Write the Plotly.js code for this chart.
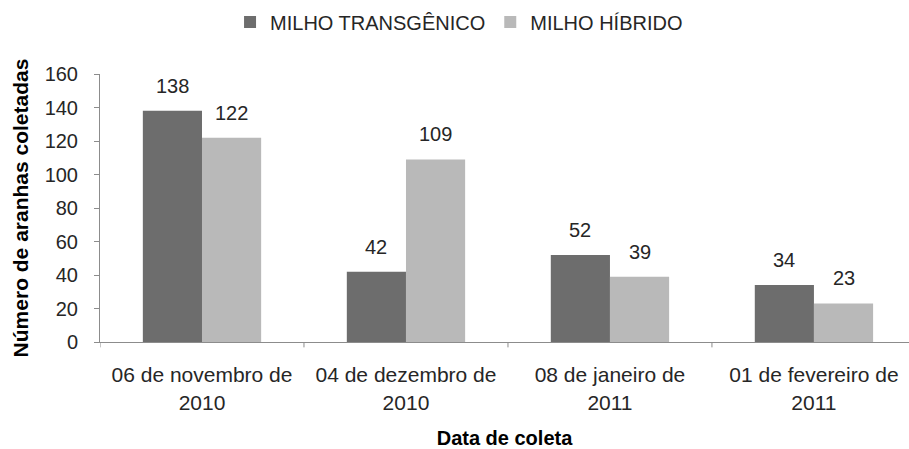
<!DOCTYPE html>
<html>
<head>
<meta charset="utf-8">
<script src="https://cdn.plot.ly/plotly-3.0.1.min.js"></script>
<style>html,body{margin:0;padding:0;background:#fff;}#chart{width:909px;height:449px;}</style>
</head>
<body>
<div id="chart"></div>
<script>
const categories = ["06 de novembro de<br>2010", "04 de dezembro de<br>2010", "08 de janeiro de<br>2011", "01 de fevereiro de<br>2011"];
const transgenico = [138, 42, 52, 34];
const hibrido = [122, 109, 39, 23];
const seriesNames = ["MILHO TRANSGÊNICO", "MILHO HÍBRIDO"];
const yTicks = [0, 20, 40, 60, 80, 100, 120, 140, 160];

const FONT = '"Liberation Sans", Arial, sans-serif';
const bargap = 0.42;
const half = (1 - bargap) / 4;

const traces = [
  {type: 'bar', name: seriesNames[0], x: categories.map((c, i) => i), y: transgenico,
   marker: {color: '#6d6d6d'}, hoverinfo: 'none'},
  {type: 'bar', name: seriesNames[1], x: categories.map((c, i) => i), y: hibrido,
   marker: {color: '#b9b9b9'}, hoverinfo: 'none'}
];

const annotations = [];
transgenico.forEach((v, i) => annotations.push({x: i - half, y: v, xref: 'x', yref: 'y', text: String(v),
  showarrow: false, yanchor: 'bottom', yshift: 12, font: {family: FONT, size: 20, color: '#262626'}}));
hibrido.forEach((v, i) => annotations.push({x: i + half, y: v, xref: 'x', yref: 'y', text: String(v),
  showarrow: false, yanchor: 'bottom', yshift: 12, font: {family: FONT, size: 20, color: '#262626'}}));

const layout = {
  width: 909, height: 449,
  margin: {l: 100, r: 0, t: 74, b: 107},
  paper_bgcolor: '#ffffff', plot_bgcolor: '#ffffff',
  font: {family: FONT, color: '#262626'},
  barmode: 'group', bargap: bargap, bargroupgap: 0,
  showlegend: true,
  legend: {orientation: 'h', xref: 'container', yref: 'container', x: 0.505, y: 0.951,
    xanchor: 'center', yanchor: 'middle', font: {family: FONT, size: 20, color: '#262626'},
    itemwidth: 30, traceorder: 'normal'},
  xaxis: {
    type: 'linear', range: [-0.5, 3.466],
    tickmode: 'array', tickvals: categories.map((c, i) => i), ticktext: categories,
    showgrid: false, zeroline: false, showline: true, linecolor: '#8c8c8c', linewidth: 1,
    ticks: '', ticklabelstandoff: 14, tickfont: {family: FONT, size: 21, color: '#262626'},
    title: {text: '<b>Data de coleta</b>', font: {family: FONT, size: 20, color: '#000'}, standoff: 20}
  },
  yaxis: {
    range: [0, 160], tickmode: 'array', tickvals: yTicks,
    showgrid: false, zeroline: false, showline: true, linecolor: '#8c8c8c', linewidth: 1,
    ticks: 'outside', ticklen: 5, tickcolor: '#8c8c8c', ticklabelstandoff: 12,
    tickfont: {family: FONT, size: 20, color: '#262626'},
    title: {text: '<b>Número de aranhas coletadas</b>', font: {family: FONT, size: 21, color: '#000'}, standoff: 10}
  },
  shapes: [-0.5, 0.5, 1.5, 2.5].map(b => ({type: 'line', xref: 'x', yref: 'paper', x0: b, x1: b, y0: 0, y1: -0.02,
    line: {color: '#8c8c8c', width: 1}})),
  annotations: annotations
};

Plotly.newPlot('chart', traces, layout, {displayModeBar: false, staticPlot: true});
</script>
</body>
</html>
